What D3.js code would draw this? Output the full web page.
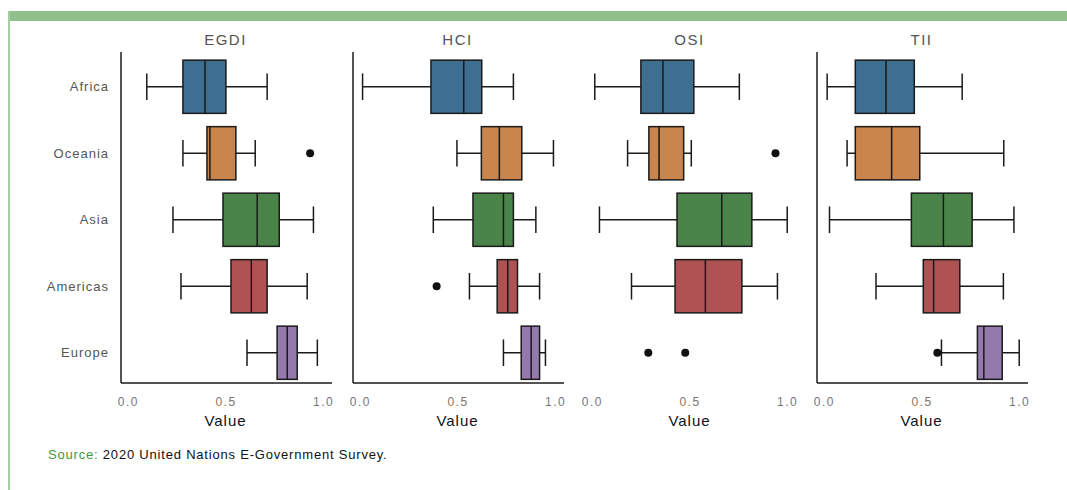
<!DOCTYPE html>
<html>
<head>
<meta charset="utf-8">
<script src="https://cdn.jsdelivr.net/npm/d3@7"></script>
<style>
  html, body { margin: 0; padding: 0; background: #fff; }
  svg { display: block; }
</style>
</head>
<body>
<svg id="chart" width="1067" height="490"></svg>
<script>
// ---- Data ----
const categories = ["Africa", "Oceania", "Asia", "Americas", "Europe"];
const metrics = ["EGDI", "HCI", "OSI", "TII"];
const tickValues = [0.0, 0.5, 1.0];
const tickLabels = ["0.0", "0.5", "1.0"];
const colors = ["#3e6e90", "#c9854b", "#4b8448", "#ae5253", "#9479ad"];

// each row: [whisker low, Q1, median, Q3, whisker high]
const egdiStats = [
  [0.097, 0.282, 0.395, 0.502, 0.713],
  [0.282, 0.405, 0.420, 0.553, 0.652],
  [0.231, 0.487, 0.662, 0.775, 0.950],
  [0.272, 0.528, 0.632, 0.713, 0.918],
  [0.610, 0.764, 0.816, 0.867, 0.970]
];
const hciStats = [
  [0.014, 0.364, 0.532, 0.624, 0.786],
  [0.497, 0.622, 0.714, 0.829, 0.991],
  [0.376, 0.579, 0.735, 0.786, 0.901],
  [0.561, 0.703, 0.757, 0.807, 0.920],
  [0.735, 0.826, 0.877, 0.920, 0.950]
];
const osiStats = [
  [0.015, 0.251, 0.364, 0.522, 0.755],
  [0.183, 0.292, 0.344, 0.470, 0.509],
  [0.039, 0.436, 0.665, 0.819, 1.000],
  [0.203, 0.426, 0.581, 0.768, 0.950],
  null
];
const tiiStats = [
  [0.017, 0.161, 0.318, 0.463, 0.708],
  [0.119, 0.161, 0.347, 0.491, 0.921],
  [0.029, 0.448, 0.612, 0.759, 0.973],
  [0.267, 0.509, 0.562, 0.696, 0.919],
  [0.602, 0.786, 0.819, 0.913, 1.000]
];
// outliers: [category, value]
const egdiOutliers = [["Oceania", 0.933]];
const hciOutliers = [["Americas", 0.393]];
const osiOutliers = [["Oceania", 0.940], ["Europe", 0.289], ["Europe", 0.478]];
const tiiOutliers = [["Europe", 0.581]];

const statsByMetric = [egdiStats, hciStats, osiStats, tiiStats];
const outliersByMetric = [egdiOutliers, hciOutliers, osiOutliers, tiiOutliers];
const showAxes = [true, true, false, true];

// ---- Layout ----
const svg = d3.select("#chart");
const panelLeft = [121, 353, 585, 817];
const panelW = 211;
const plotTop = 52, plotBottom = 383;
const FONT = "Liberation Sans, Arial, sans-serif";

// frame
svg.append("rect").attr("x", 8).attr("y", 11).attr("width", 1059).attr("height", 10).attr("fill", "#8fbf8a");
svg.append("rect").attr("x", 8).attr("y", 11).attr("width", 2).attr("height", 479).attr("fill", "#a3cf9e");

const y = d3.scaleBand().domain(categories).range([53.5, 386]).paddingInner(0);
const boxH = y.step() * 0.8;
const capH = boxH / 2;

// category labels
svg.append("g").selectAll("text").data(categories).join("text")
  .attr("x", 109).attr("y", d => y(d) + y.step() / 2)
  .attr("text-anchor", "end").attr("dominant-baseline", "central")
  .attr("font-family", FONT).attr("font-size", 13).attr("letter-spacing", 1)
  .attr("fill", "#555").text(d => d);

metrics.forEach((m, mi) => {
  const x0 = panelLeft[mi];
  const x = d3.scaleLinear().domain([-0.035, 1.045]).range([x0, x0 + panelW]);
  const g = svg.append("g");
  const stroke = "#1a1a1a";

  // title
  g.append("text").attr("x", x(0.5)).attr("y", 45).attr("text-anchor", "middle")
    .attr("font-family", FONT).attr("font-size", 15).attr("letter-spacing", 1.5)
    .attr("fill", "#555").text(m);

  if (showAxes[mi]) {
    g.append("line").attr("x1", x0).attr("x2", x0).attr("y1", plotTop).attr("y2", plotBottom)
      .attr("stroke", stroke).attr("stroke-width", 1.5);
    g.append("line").attr("x1", x0).attr("x2", x0 + panelW).attr("y1", plotBottom).attr("y2", plotBottom)
      .attr("stroke", stroke).attr("stroke-width", 1.5);
  }

  const ax = g.append("g").attr("transform", `translate(0,${plotBottom + 16})`)
    .call(d3.axisBottom(x).tickValues(tickValues).tickSize(0).tickFormat((d, i) => tickLabels[i]));
  ax.select(".domain").remove();
  ax.selectAll("text").attr("font-family", FONT)
    .attr("font-size", 12).attr("letter-spacing", 1.5).attr("fill", "#777").attr("dy", "0.3em");

  g.append("text").attr("x", x(0.5)).attr("y", 426).attr("text-anchor", "middle")
    .attr("font-family", FONT).attr("font-size", 15).attr("letter-spacing", 1)
    .attr("fill", "#111").text("Value");

  const stats = statsByMetric[mi];
  categories.forEach((c, ci) => {
    const s = stats[ci];
    if (!s) return;
    const cy = y(c) + y.step() / 2;
    const [wl, q1, med, q3, wh] = s;
    const lineAttrs = sel => sel.attr("stroke", stroke).attr("stroke-width", 1.5);
    g.append("line").attr("x1", x(wl)).attr("x2", x(q1)).attr("y1", cy).attr("y2", cy).call(lineAttrs);
    g.append("line").attr("x1", x(q3)).attr("x2", x(wh)).attr("y1", cy).attr("y2", cy).call(lineAttrs);
    g.append("line").attr("x1", x(wl)).attr("x2", x(wl)).attr("y1", cy - capH / 2).attr("y2", cy + capH / 2).call(lineAttrs);
    g.append("line").attr("x1", x(wh)).attr("x2", x(wh)).attr("y1", cy - capH / 2).attr("y2", cy + capH / 2).call(lineAttrs);
    g.append("rect").attr("x", x(q1)).attr("y", cy - boxH / 2)
      .attr("width", x(q3) - x(q1)).attr("height", boxH)
      .attr("fill", colors[ci]).call(lineAttrs);
    g.append("line").attr("x1", x(med)).attr("x2", x(med)).attr("y1", cy - boxH / 2).attr("y2", cy + boxH / 2).call(lineAttrs);
  });

  g.selectAll("circle.out").data(outliersByMetric[mi]).join("circle")
    .attr("class", "out")
    .attr("cx", d => x(d[1])).attr("cy", d => y(d[0]) + y.step() / 2)
    .attr("r", 4).attr("fill", "#111");
});

// source
const src = svg.append("text").attr("x", 48).attr("y", 459)
  .attr("font-family", FONT).attr("font-size", 13).attr("letter-spacing", 0.8);
src.append("tspan").attr("fill", "#3f9a3a").text("Source: ");
src.append("tspan").attr("fill", "#111").text("2020 United Nations E-Government Survey.");
</script>
</body>
</html>
